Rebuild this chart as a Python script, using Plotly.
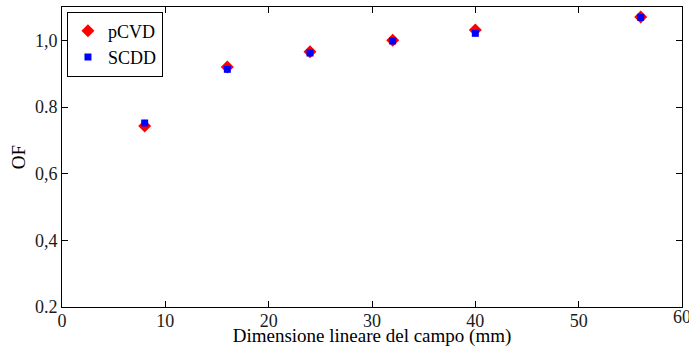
import plotly.graph_objects as go

field_mm = [8, 16, 24, 32, 40, 56]
pcvd = [0.743, 0.920, 0.966, 1.000, 1.031, 1.070]
scdd = [0.752, 0.913, 0.962, 0.998, 1.021, 1.069]
y_tick_vals = [0.2, 0.4, 0.6, 0.8, 1.0]
y_tick_text = ["0.2", "0,4", "0,6", "0.8", "1,0"]
x_tick_vals = [0, 10, 20, 30, 40, 50, 60]
x_tick_text = ["0", "10", "20", "30", "40", "50", ""]
x_last_label = "60"

font = "Liberation Serif, Times New Roman, serif"

fig = go.Figure()
fig.add_trace(go.Scatter(x=field_mm, y=pcvd, mode="markers", name="pCVD",
                         marker=dict(symbol="diamond", color="#ff0000", size=10)))
fig.add_trace(go.Scatter(x=field_mm, y=scdd, mode="markers", name="SCDD",
                         marker=dict(symbol="square", color="#0000ff", size=7)))

axis_common = dict(showline=True, linecolor="black", linewidth=1, mirror="ticks",
                   ticks="inside", ticklen=6, tickcolor="black", showgrid=False,
                   zeroline=False, automargin=False,
                   tickfont=dict(family=font, size=18, color="#1a1a1a"))

fig.update_xaxes(range=[0, 60], tickvals=x_tick_vals, ticktext=x_tick_text,
                 ticklabelstandoff=-3,
                 title=dict(text="Dimensione lineare del campo (mm)", standoff=0,
                            font=dict(family=font, size=19, color="black")),
                 **axis_common)
fig.update_yaxes(range=[0.2, 1.1], tickvals=y_tick_vals, ticktext=y_tick_text,
                 title=dict(text="OF", standoff=4,
                            font=dict(family=font, size=19, color="black")),
                 **axis_common)

fig.add_annotation(x=60, xref="x", y=0, yref="paper", yanchor="top", xanchor="center",
                   yshift=2, text=x_last_label, showarrow=False,
                   font=dict(family=font, size=18, color="#1a1a1a"))

fig.update_layout(
    width=689, height=347,
    margin=dict(l=62, r=7, t=7, b=40),
    plot_bgcolor="white", paper_bgcolor="white",
    showlegend=True,
    legend=dict(x=0.008, y=0.985, xanchor="left", yanchor="top",
                bordercolor="black", borderwidth=1, bgcolor="white",
                font=dict(family=font, size=18, color="black"),
                itemwidth=30, tracegroupgap=0),
)

fig.write_html("out.html", config={"displayModeBar": False},
               post_script="document.body.style.margin='0px';")
